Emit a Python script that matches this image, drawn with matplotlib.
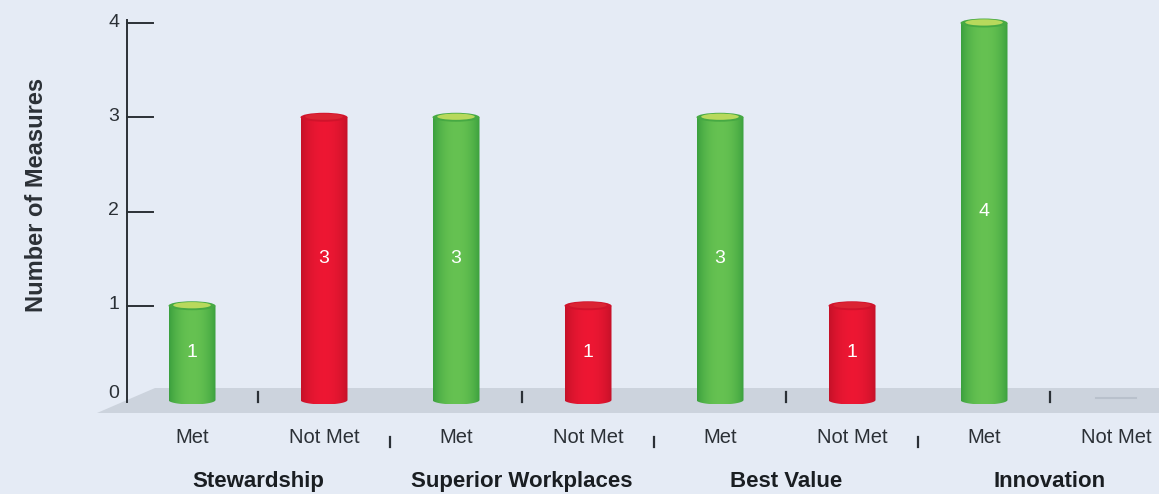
import numpy as np
import matplotlib

matplotlib.use("Agg")
import matplotlib.pyplot as plt
from matplotlib.patches import Ellipse, Polygon

groups = ["Stewardship", "Superior Workplaces", "Best Value", "Innovation"]
statuses = ["Met", "Not Met"]
met = [1, 3, 3, 4]
not_met = [3, 1, 1, 0]
y_ticks = [0, 1, 2, 3, 4]

plt.rcParams["font.family"] = ["Liberation Sans", "DejaVu Sans"]

BG = "#e5ebf5"
FLOOR = "#ccd3dd"
INK = "#2b3036"
# (dark edge, bright centre, top cap) per status
PALETTE = {
    "Met": ((0.09, 0.52, 0.18), (0.40, 0.76, 0.32), (0.72, 0.85, 0.36)),
    "Not Met": ((0.64, 0.05, 0.12), (0.93, 0.09, 0.20), (0.86, 0.14, 0.20)),
}

values = [v for pair in zip(met, not_met) for v in pair]
kinds = [s for _ in groups for s in statuses]
xs = np.arange(len(values))

W, H = 1159, 494
fig = plt.figure(figsize=(W / 100, H / 100), dpi=100, facecolor=BG)
ax = fig.add_axes([0, 0, 1, 1], facecolor=BG)
xlim = (-192 / 132, (W - 192) / 132)
ylim = ((400 - H) / 94.25, 400 / 94.25)
ax.set_autoscale_on(False)
ax.set_xlim(*xlim)
ax.set_ylim(*ylim)

axis_x = (127 - 192) / 132

# floor
floor = Polygon([(-0.28, 0.127), (xlim[1], 0.127), (xlim[1], -0.138), (-0.72, -0.138)],
                closed=True, facecolor=FLOOR, edgecolor="none", zorder=1)
ax.add_patch(floor)

bar_w = 0.356
cap_h = 0.095
t = np.linspace(0, 1, 200)
profile = np.clip(1 - ((t - 0.5) / 0.6) ** 2, 0, 1) ** 0.7

for x, v, kind in zip(xs, values, kinds):
    dark, light, top = (np.array(c) for c in PALETTE[kind])
    if v == 0:
        ax.plot([x - 0.15, x + 0.15], [0.02, 0.02], color="#b9c1cc", lw=1.5, zorder=2)
        continue
    x0, x1 = x - bar_w / 2, x + bar_w / 2
    ang = np.linspace(np.pi, 2 * np.pi, 60)
    bottom = np.column_stack([x + bar_w / 2 * np.cos(ang), cap_h / 2 * np.sin(ang)])
    outline = np.vstack([[(x0, v)], bottom, [(x1, v)]])
    clip = Polygon(outline, closed=True, facecolor="none", edgecolor="none", zorder=3)
    ax.add_patch(clip)
    grad = dark + (light - dark) * profile[:, None]
    im = ax.imshow(grad[None, :, :], extent=(x0, x1, -cap_h / 2, v), aspect="auto",
                   interpolation="bilinear", zorder=3)
    im.set_clip_path(clip)
    ax.add_patch(Ellipse((x, v), bar_w, cap_h, facecolor=dark + (light - dark) * 0.6,
                         edgecolor="none", zorder=4))
    ax.add_patch(Ellipse((x, v + cap_h * 0.06), bar_w * 0.8, cap_h * 0.7, facecolor=top,
                         edgecolor="none", zorder=4))
    ax.text(x, v / 2, f"{v}", color="white", fontsize=14, ha="center", va="center", zorder=5)

# y axis
ax.plot([axis_x, axis_x], [-0.02, 4.03], color=INK, lw=1.4, zorder=2)
for yt in y_ticks:
    if yt > 0:
        ax.plot([axis_x, axis_x + 0.197], [yt, yt], color=INK, lw=1.4, zorder=2)
    ax.text(axis_x - 0.06, yt + (0.07 if yt == 0 else 0.01), str(yt), fontsize=14,
            color=INK, ha="right", va="center")
fig.text(37 / W, 1 - 195 / H, "Number of Measures", rotation=90, fontsize=17,
         fontweight="bold", color=INK, ha="center", va="center")

# separators and labels
for x, kind in zip(xs, kinds):
    ax.text(x, -0.4, kind, fontsize=14.5, color=INK, ha="center", va="center")
for i, g in enumerate(groups):
    mid = 2 * i + 0.5
    ax.plot([mid, mid], [-0.02, 0.085], color=INK, lw=1.6, zorder=2)
    ax.text(mid, -0.86, g, fontsize=16, fontweight="bold", color="#1a1e22",
            ha="center", va="center")
    if i > 0:
        ax.plot([mid - 1, mid - 1], [-0.5, -0.39], color=INK, lw=1.6, zorder=2)

ax.axis("off")
fig.savefig("out.png", dpi=100, facecolor=BG)
